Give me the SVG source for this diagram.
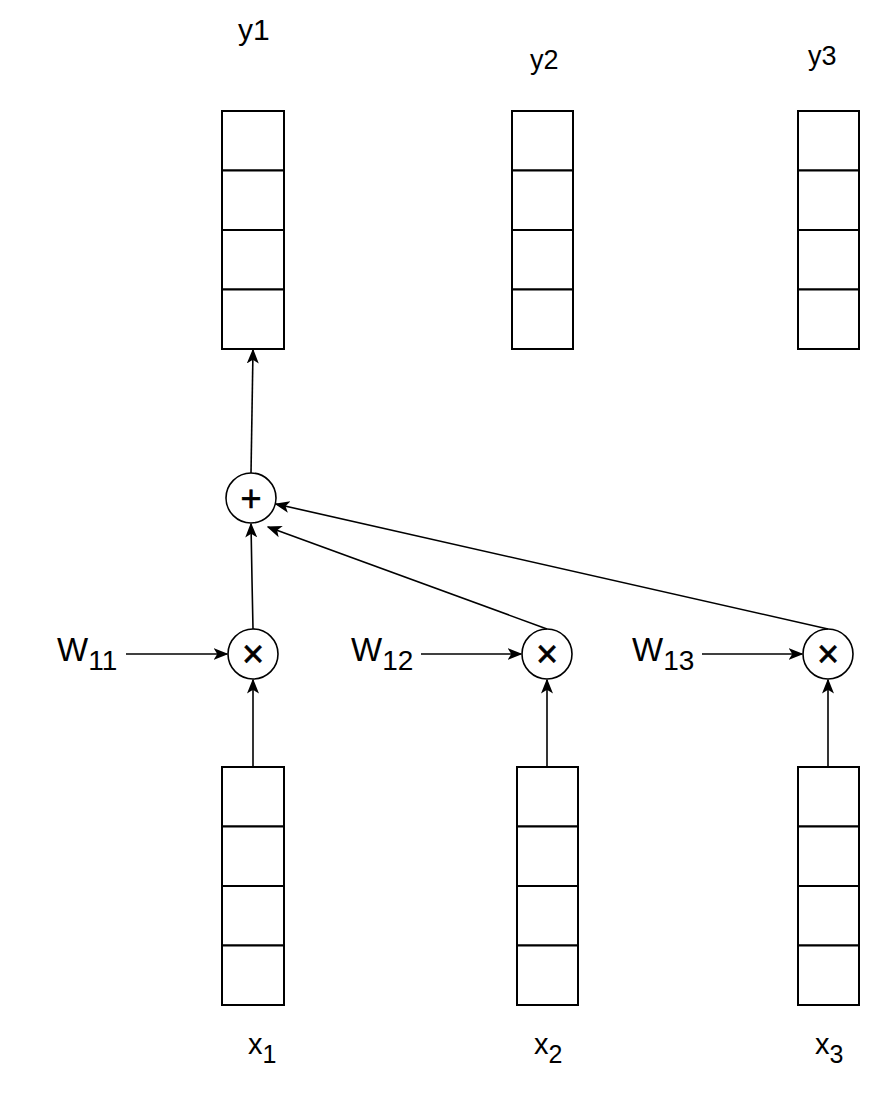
<svg xmlns="http://www.w3.org/2000/svg" width="884" height="1098" viewBox="0 0 884 1098">
  <defs>
    <marker id="arrow" viewBox="0 0 10 10" refX="9" refY="5" markerWidth="15" markerHeight="15" markerUnits="userSpaceOnUse" orient="auto">
      <path d="M0,1 L10,5 L0,9 L2.5,5 Z" fill="#000"/>
    </marker>
  </defs>
  <style>
    .cell { fill: #fff; stroke: #000; stroke-width: 2; }
    .op { fill: #fff; stroke: #000; stroke-width: 1.6; }
    .edge { fill: none; stroke: #000; stroke-width: 1.6; marker-end: url(#arrow); }
    .lbl { font-family: "Liberation Sans", Arial, sans-serif; fill: #000; }
    .sym { font-family: "Liberation Sans", Arial, sans-serif; text-anchor: middle; fill: #000; stroke: #000; stroke-width: 0.6; }
  </style>
  <rect width="884" height="1098" fill="#fff"/>

  <!-- output vectors -->
  <g id="y1-vec">
    <rect class="cell" x="222" y="111" width="62" height="59.5"/>
    <rect class="cell" x="222" y="170.5" width="62" height="59.5"/>
    <rect class="cell" x="222" y="230" width="62" height="59.5"/>
    <rect class="cell" x="222" y="289.5" width="62" height="59.5"/>
  </g>
  <g id="y2-vec">
    <rect class="cell" x="512" y="111" width="61" height="59.5"/>
    <rect class="cell" x="512" y="170.5" width="61" height="59.5"/>
    <rect class="cell" x="512" y="230" width="61" height="59.5"/>
    <rect class="cell" x="512" y="289.5" width="61" height="59.5"/>
  </g>
  <g id="y3-vec">
    <rect class="cell" x="798" y="111" width="61" height="59.5"/>
    <rect class="cell" x="798" y="170.5" width="61" height="59.5"/>
    <rect class="cell" x="798" y="230" width="61" height="59.5"/>
    <rect class="cell" x="798" y="289.5" width="61" height="59.5"/>
  </g>

  <!-- input vectors -->
  <g id="x1-vec">
    <rect class="cell" x="222" y="767" width="62" height="59.5"/>
    <rect class="cell" x="222" y="826.5" width="62" height="59.5"/>
    <rect class="cell" x="222" y="886" width="62" height="59.5"/>
    <rect class="cell" x="222" y="945.5" width="62" height="59.5"/>
  </g>
  <g id="x2-vec">
    <rect class="cell" x="517" y="767" width="61" height="59.5"/>
    <rect class="cell" x="517" y="826.5" width="61" height="59.5"/>
    <rect class="cell" x="517" y="886" width="61" height="59.5"/>
    <rect class="cell" x="517" y="945.5" width="61" height="59.5"/>
  </g>
  <g id="x3-vec">
    <rect class="cell" x="798" y="767" width="61" height="59.5"/>
    <rect class="cell" x="798" y="826.5" width="61" height="59.5"/>
    <rect class="cell" x="798" y="886" width="61" height="59.5"/>
    <rect class="cell" x="798" y="945.5" width="61" height="59.5"/>
  </g>

  <!-- operators -->
  <g id="sum">
    <circle class="op" cx="251" cy="498" r="25"/>
    <text class="sym" x="251" y="510.5" font-size="36">+</text>
  </g>
  <g id="mul1">
    <circle class="op" cx="253" cy="654" r="25"/>
    <text class="sym" x="253" y="667" font-size="38">×</text>
  </g>
  <g id="mul2">
    <circle class="op" cx="547" cy="654" r="25"/>
    <text class="sym" x="547" y="667" font-size="38">×</text>
  </g>
  <g id="mul3">
    <circle class="op" cx="828" cy="654" r="25"/>
    <text class="sym" x="828" y="667" font-size="38">×</text>
  </g>

  <!-- labels -->
  <g id="labels">
    <text class="lbl" x="238" y="40" font-size="30">y1</text>
    <text class="lbl" x="530" y="69" font-size="27">y2</text>
    <text class="lbl" x="808" y="65" font-size="27">y3</text>
    <text class="lbl" x="57" y="661" font-size="33">W<tspan font-size="28" dy="9">11</tspan></text>
    <text class="lbl" x="351" y="661" font-size="33">W<tspan font-size="28" dy="9">12</tspan></text>
    <text class="lbl" x="632" y="661" font-size="33">W<tspan font-size="28" dy="9">13</tspan></text>
    <text class="lbl" x="248" y="1054" font-size="29">x<tspan font-size="25" dy="9">1</tspan></text>
    <text class="lbl" x="534" y="1054" font-size="29">x<tspan font-size="25" dy="9">2</tspan></text>
    <text class="lbl" x="815" y="1054" font-size="29">x<tspan font-size="25" dy="9">3</tspan></text>
  </g>

  <!-- connectors -->
  <g id="connectors">
    <line class="edge" x1="253" y1="767" x2="253" y2="680"/>
    <line class="edge" x1="547" y1="767" x2="547" y2="680"/>
    <line class="edge" x1="828" y1="767" x2="828" y2="680"/>
    <line class="edge" x1="126" y1="654" x2="227" y2="654"/>
    <line class="edge" x1="421" y1="654" x2="521" y2="654"/>
    <line class="edge" x1="702" y1="654" x2="802" y2="654"/>
    <path class="edge" d="M253,629 L252,580 L251,524"/>
    <line class="edge" x1="547" y1="629" x2="268" y2="527"/>
    <line class="edge" x1="828" y1="629" x2="276" y2="504"/>
    <line class="edge" x1="251" y1="473" x2="253" y2="350"/>
  </g>
</svg>
